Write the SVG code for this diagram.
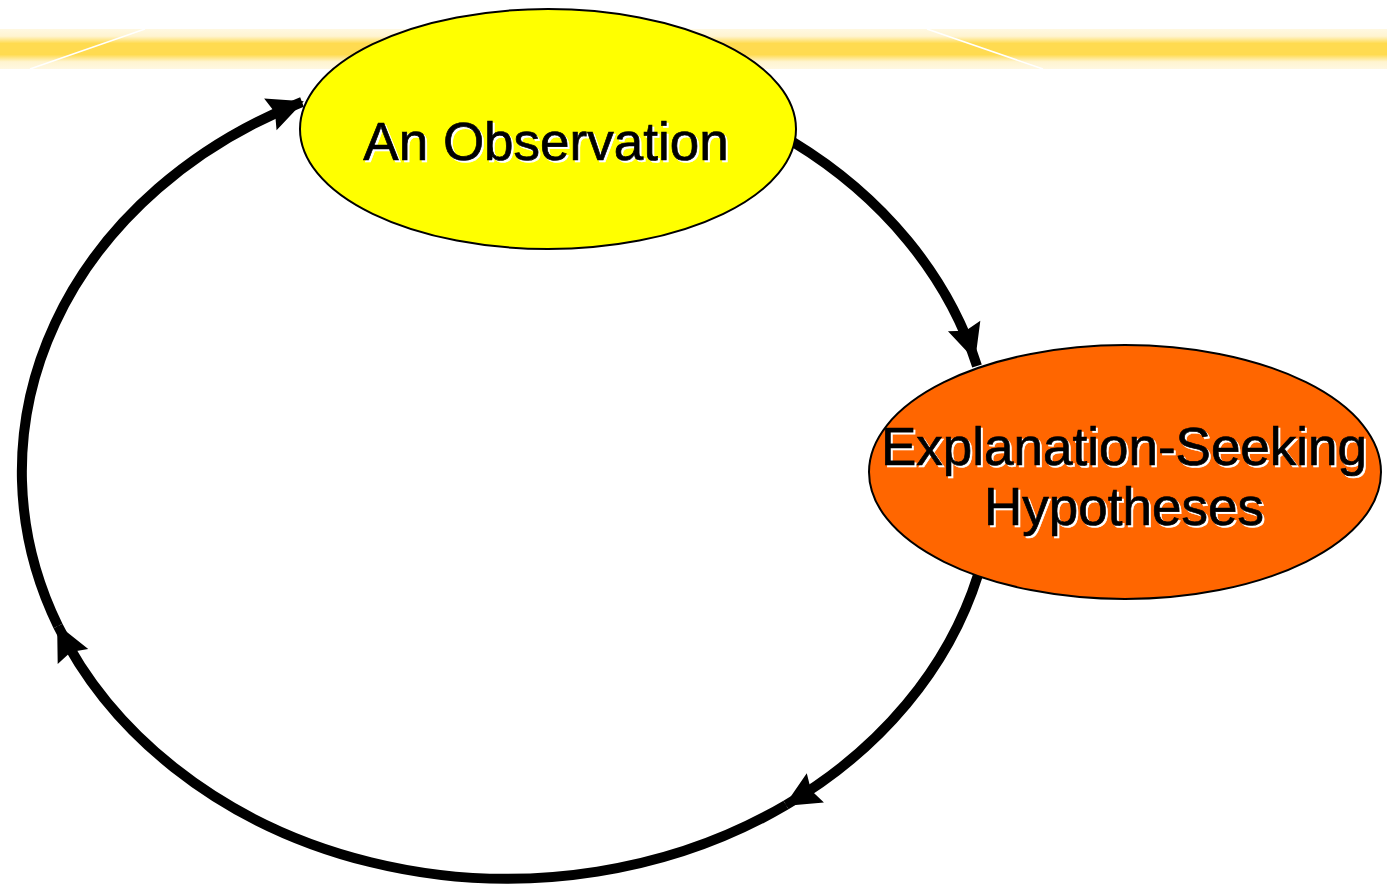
<svg xmlns="http://www.w3.org/2000/svg" width="1387" height="885" viewBox="0 0 1387 885">
  <defs>
    <linearGradient id="band" x1="0" y1="0" x2="0" y2="1">
      <stop offset="0" stop-color="#FFF8E2"/>
      <stop offset="0.18" stop-color="#FFF4D0"/>
      <stop offset="0.36" stop-color="#FFDB50"/>
      <stop offset="0.64" stop-color="#FFDB50"/>
      <stop offset="0.82" stop-color="#FFF4D0"/>
      <stop offset="1" stop-color="#FFF8E2"/>
    </linearGradient>
    <marker id="arrow" markerUnits="userSpaceOnUse" viewBox="-40 -20 46 40" markerWidth="46" markerHeight="40" refX="0" refY="0" orient="auto">
      <path d="M2,0 L-34,-17 L-29,0 L-34,17 Z" fill="#000"/>
    </marker>
    <marker id="arrowIn" markerUnits="userSpaceOnUse" viewBox="-50 -20 46 40" markerWidth="46" markerHeight="40" refX="-4" refY="0" orient="auto">
      <path d="M-10,0 L-46,-17 L-41,0 L-46,17 Z" fill="#000"/>
    </marker>
  </defs>
  <style>
    .conn { fill: none; stroke: #000; stroke-width: 10; }
    .node { stroke: #000; stroke-width: 2; }
    .lbl { font-family: "Liberation Sans", Arial, sans-serif; font-size: 53px; text-anchor: middle; }
    .shadow { fill: #fff; stroke: #fff; stroke-width: 0.6; }
    .txt { fill: #000; stroke: #000; stroke-width: 0.7; }
  </style>

  <g id="banner">
    <rect x="0" y="29" width="1387" height="40" fill="url(#band)"/>
    <line x1="30" y1="69" x2="145" y2="29" stroke="#fff" stroke-width="1.5"/>
    <line x1="927" y1="29" x2="1043" y2="69" stroke="#fff" stroke-width="1.5"/>
  </g>

  <g id="connectors">
    <path class="conn" d="M793,142 A486,408 0 0 1 977,366" marker-end="url(#arrowIn)"/>
    <path class="conn" d="M978,575 A486,408 0 0 1 786,805" marker-end="url(#arrow)"/>
    <path class="conn" d="M786,805 A486,408 0 0 1 58,626" marker-end="url(#arrow)"/>
    <path class="conn" d="M58,626 A486,408 0 0 1 302,102" marker-end="url(#arrow)"/>
  </g>

  <g id="observation">
    <ellipse class="node" cx="548" cy="129" rx="248" ry="120" fill="#FFFF00"/>
    <text class="lbl shadow" x="548" y="162">An Observation</text>
    <text class="lbl txt" x="546" y="160">An Observation</text>
  </g>

  <g id="hypotheses">
    <ellipse class="node" cx="1125" cy="472" rx="256" ry="127" fill="#FF6600"/>
    <text class="lbl shadow" x="1126" y="467">Explanation-Seeking</text>
    <text class="lbl txt" x="1124" y="465">Explanation-Seeking</text>
    <text class="lbl shadow" x="1126" y="527">Hypotheses</text>
    <text class="lbl txt" x="1124" y="525">Hypotheses</text>
  </g>
</svg>
